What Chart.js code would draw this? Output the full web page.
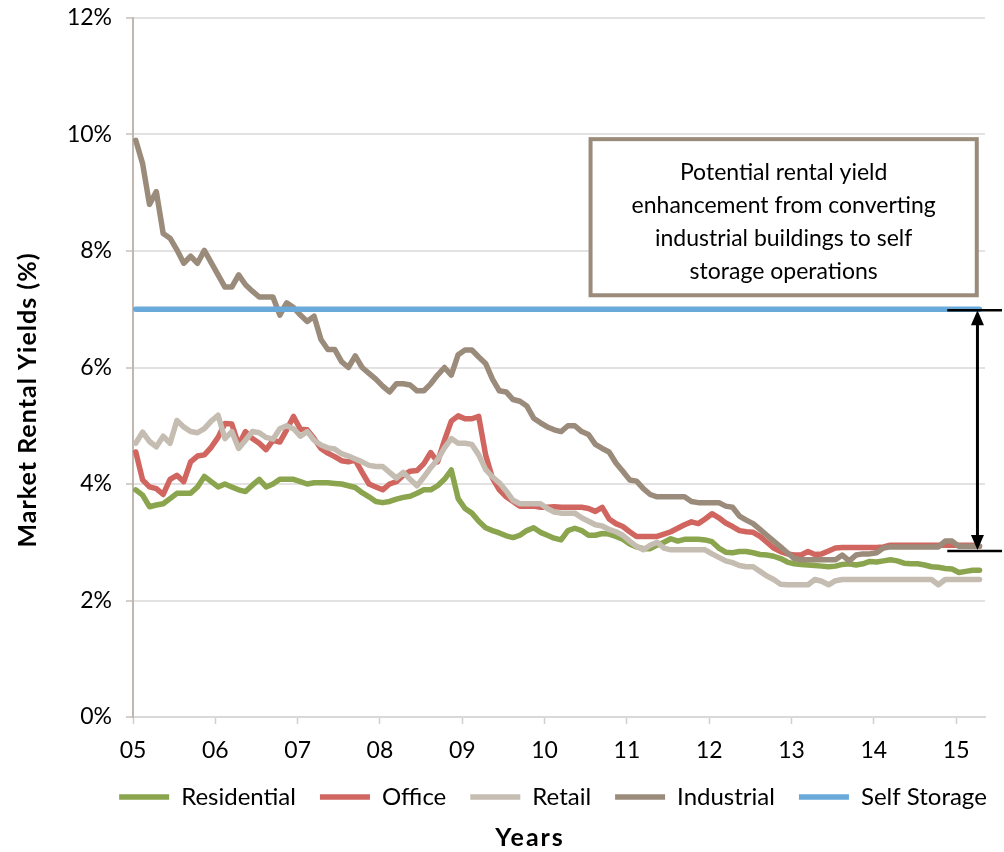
<!DOCTYPE html>
<html>
<head>
<meta charset="utf-8">
<script src="https://cdn.jsdelivr.net/npm/chart.js@4.4.0/dist/chart.umd.min.js"></script>
<style>
  html, body { margin: 0; padding: 0; background: #ffffff; }
  #wrap { width: 1004px; height: 852px; position: relative; }
</style>
</head>
<body>
<div id="wrap"><canvas id="chart" width="1004" height="852"></canvas></div>
<script>
// Year tick labels (one tick every 12 months, starting January 2005)
const yearLabels = ['05', '06', '07', '08', '09', '10', '11', '12', '13', '14', '15'];

// Monthly market rental yields (%), Jan 2005 – Apr 2015
const residential = [
  3.9, 3.81, 3.61, 3.64, 3.66, 3.75, 3.84, 3.84, 3.84, 3.95,
  4.13, 4.04, 3.95, 4.0, 3.95, 3.9, 3.87, 3.98, 4.08, 3.95,
  4.0, 4.08, 4.08, 4.08, 4.04, 4.0, 4.02, 4.02, 4.02, 4.01,
  4.0, 3.97, 3.94, 3.85, 3.78, 3.7, 3.68, 3.7, 3.74, 3.77,
  3.79, 3.84, 3.9, 3.9, 3.97, 4.08, 4.24, 3.75, 3.58, 3.5,
  3.36, 3.25, 3.2, 3.16, 3.11, 3.08, 3.12, 3.2, 3.25, 3.17,
  3.12, 3.07, 3.04, 3.2, 3.24, 3.2, 3.12, 3.12, 3.15, 3.14,
  3.1, 3.05, 2.97, 2.92, 2.89, 2.89, 2.95, 3.0, 3.06, 3.02,
  3.05, 3.05, 3.05, 3.04, 3.01, 2.9, 2.83, 2.82, 2.84, 2.84,
  2.82, 2.79, 2.78, 2.76, 2.72, 2.66, 2.63, 2.62, 2.61, 2.6,
  2.59, 2.58, 2.59, 2.62, 2.63, 2.61, 2.63, 2.67, 2.66, 2.68,
  2.7, 2.68, 2.64, 2.63, 2.63, 2.61, 2.58, 2.57, 2.55, 2.54,
  2.48, 2.5, 2.52, 2.52
];
const office = [
  4.55, 4.07, 3.95, 3.92, 3.82, 4.08, 4.15, 4.04, 4.38, 4.48,
  4.5, 4.63, 4.8, 5.04, 5.03, 4.67, 4.9, 4.78, 4.7, 4.59,
  4.75, 4.72, 4.93, 5.16, 4.94, 4.93, 4.78, 4.61, 4.53, 4.47,
  4.4, 4.38, 4.41, 4.2, 4.0, 3.95, 3.9, 4.0, 4.04, 4.15,
  4.22, 4.23, 4.35, 4.54, 4.38, 4.75, 5.08, 5.17, 5.12, 5.12,
  5.16, 4.5, 4.1, 3.9, 3.78, 3.7, 3.62, 3.62, 3.62, 3.6,
  3.6, 3.61, 3.6, 3.6, 3.6, 3.6, 3.58, 3.53, 3.6, 3.4,
  3.32, 3.27, 3.18, 3.1, 3.1, 3.1, 3.1, 3.14, 3.18, 3.24,
  3.3, 3.35, 3.32, 3.4, 3.49, 3.42, 3.33, 3.27, 3.2, 3.18,
  3.17, 3.1, 3.0, 2.9, 2.84, 2.8, 2.78, 2.78, 2.84, 2.79,
  2.8, 2.85, 2.9, 2.91, 2.91, 2.91, 2.91, 2.91, 2.91, 2.92,
  2.95, 2.95, 2.95, 2.95, 2.95, 2.95, 2.95, 2.95, 2.95, 2.95,
  2.95, 2.95, 2.95, 2.93
];
const retail = [
  4.7, 4.89, 4.73, 4.64, 4.82, 4.7, 5.09, 4.98, 4.9, 4.88,
  4.95, 5.08, 5.18, 4.78, 4.9, 4.61, 4.75, 4.9, 4.88, 4.8,
  4.77, 4.95, 5.0, 4.95, 4.82, 4.9, 4.75, 4.67, 4.62, 4.6,
  4.52, 4.48, 4.43, 4.38, 4.32, 4.3, 4.3, 4.2, 4.1, 4.2,
  4.08, 3.97, 4.12, 4.28, 4.42, 4.62, 4.78, 4.7, 4.7, 4.68,
  4.5, 4.25, 4.12, 4.02, 3.88, 3.72, 3.66, 3.66, 3.66, 3.66,
  3.58, 3.52, 3.5, 3.5, 3.5, 3.42, 3.36, 3.3, 3.28, 3.22,
  3.18, 3.12, 3.02, 2.93, 2.87, 2.95, 3.0, 2.9, 2.87, 2.87,
  2.87, 2.87, 2.87, 2.87, 2.8, 2.74, 2.68, 2.65, 2.6, 2.58,
  2.58, 2.5, 2.42, 2.36, 2.28, 2.27, 2.27, 2.27, 2.27, 2.36,
  2.33, 2.27, 2.34, 2.36, 2.36, 2.36, 2.36, 2.36, 2.36, 2.36,
  2.36, 2.36, 2.36, 2.36, 2.36, 2.36, 2.36, 2.27, 2.36, 2.36,
  2.36, 2.36, 2.36, 2.36
];
const industrial = [
  9.9, 9.5, 8.8, 9.02, 8.3, 8.22, 8.02, 7.79, 7.91, 7.79,
  8.01, 7.8, 7.59, 7.38, 7.38, 7.59, 7.42, 7.31, 7.21, 7.21,
  7.21, 6.9, 7.11, 7.03, 6.9, 6.79, 6.88, 6.48, 6.31, 6.31,
  6.1, 6.0, 6.2, 6.0, 5.9, 5.8, 5.68, 5.58, 5.72, 5.72,
  5.7, 5.6, 5.6, 5.72, 5.87, 6.0, 5.87, 6.22, 6.3, 6.3,
  6.18, 6.07, 5.8, 5.6, 5.58, 5.45, 5.42, 5.34, 5.13, 5.05,
  4.98, 4.93, 4.9, 5.0, 5.0, 4.9, 4.85, 4.68, 4.61, 4.55,
  4.36, 4.22, 4.07, 4.05, 3.92, 3.82, 3.78, 3.78, 3.78, 3.78,
  3.78, 3.7, 3.68, 3.68, 3.68, 3.68, 3.62, 3.6, 3.45, 3.38,
  3.32, 3.22, 3.12, 3.02, 2.92, 2.82, 2.72, 2.7, 2.7, 2.7,
  2.7, 2.7, 2.7, 2.78, 2.68, 2.78, 2.8, 2.8, 2.82, 2.9,
  2.92, 2.92, 2.92, 2.92, 2.92, 2.92, 2.92, 2.92, 3.02, 3.02,
  2.93, 2.93, 2.93, 2.93
];
const selfStorage = [
  7.0, 7.0, 7.0, 7.0, 7.0, 7.0, 7.0, 7.0, 7.0, 7.0,
  7.0, 7.0, 7.0, 7.0, 7.0, 7.0, 7.0, 7.0, 7.0, 7.0,
  7.0, 7.0, 7.0, 7.0, 7.0, 7.0, 7.0, 7.0, 7.0, 7.0,
  7.0, 7.0, 7.0, 7.0, 7.0, 7.0, 7.0, 7.0, 7.0, 7.0,
  7.0, 7.0, 7.0, 7.0, 7.0, 7.0, 7.0, 7.0, 7.0, 7.0,
  7.0, 7.0, 7.0, 7.0, 7.0, 7.0, 7.0, 7.0, 7.0, 7.0,
  7.0, 7.0, 7.0, 7.0, 7.0, 7.0, 7.0, 7.0, 7.0, 7.0,
  7.0, 7.0, 7.0, 7.0, 7.0, 7.0, 7.0, 7.0, 7.0, 7.0,
  7.0, 7.0, 7.0, 7.0, 7.0, 7.0, 7.0, 7.0, 7.0, 7.0,
  7.0, 7.0, 7.0, 7.0, 7.0, 7.0, 7.0, 7.0, 7.0, 7.0,
  7.0, 7.0, 7.0, 7.0, 7.0, 7.0, 7.0, 7.0, 7.0, 7.0,
  7.0, 7.0, 7.0, 7.0, 7.0, 7.0, 7.0, 7.0, 7.0, 7.0,
  7.0, 7.0, 7.0, 7.0
];

// Callout text and the yield gap it points at
const calloutLines = [
  'Potential rental yield',
  'enhancement from converting',
  'industrial buildings to self',
  'storage operations'
];
const gapTop = 7.0;      // self storage yield
const gapBottom = 2.85;  // current industrial yield

const FONT = "Lato, 'DejaVu Sans', sans-serif";
const PAD_LEFT = 62;
const AXIS_LEFT = 133;

Chart.defaults.font.family = FONT;
Chart.defaults.font.size = 23;
Chart.defaults.color = '#000000';

const toPoints = arr => arr.map((v, i) => ({ x: i, y: v }));

function series(label, values, color, order) {
  return {
    label: label,
    data: toPoints(values),
    yAxisID: 'y',
    borderColor: color,
    backgroundColor: color,
    borderWidth: 5.5,
    borderCapStyle: 'round',
    borderJoinStyle: 'round',
    pointRadius: 0,
    pointHoverRadius: 0,
    pointStyle: 'line',
    tension: 0,
    fill: false,
    order: order
  };
}

// Callout box, gap arrow and axis titles
const extras = {
  id: 'extras',
  afterDatasetsDraw(chart) {
    const { ctx, chartArea, scales: { x, y } } = chart;
    ctx.save();

    // callout box
    const bx0 = x.getPixelForValue(66.3), bx1 = x.getPixelForValue(122.6);
    const by0 = y.getPixelForValue(9.92), by1 = y.getPixelForValue(7.24);
    ctx.fillStyle = '#ffffff';
    ctx.fillRect(bx0, by0, bx1 - bx0, by1 - by0);
    ctx.strokeStyle = '#9a8b7b';
    ctx.lineWidth = 4;
    ctx.strokeRect(bx0, by0, bx1 - bx0, by1 - by0);
    ctx.fillStyle = '#000000';
    ctx.font = '23px ' + FONT;
    ctx.textAlign = 'center';
    ctx.textBaseline = 'middle';
    const cx = (bx0 + bx1) / 2;
    calloutLines.forEach((line, i) => {
      ctx.fillText(line, cx, by0 + 33 + i * 33);
    });

    // double-headed arrow spanning the yield gap
    const ax = x.getPixelForValue(122.7);
    const yTop = y.getPixelForValue(gapTop);
    const yBot = y.getPixelForValue(gapBottom);
    const hx0 = x.getPixelForValue(118.3), hx1 = chartArea.right + 17;
    ctx.strokeStyle = '#000000';
    ctx.lineWidth = 2.5;
    ctx.beginPath();
    ctx.moveTo(hx0, yTop + 1); ctx.lineTo(hx1, yTop + 1);
    ctx.moveTo(hx0, yBot); ctx.lineTo(hx1, yBot);
    ctx.stroke();
    ctx.lineWidth = 3;
    ctx.beginPath();
    ctx.moveTo(ax, yTop + 12); ctx.lineTo(ax, yBot - 12);
    ctx.stroke();
    ctx.fillStyle = '#000000';
    ctx.beginPath();
    ctx.moveTo(ax, yTop + 1); ctx.lineTo(ax - 6.5, yTop + 16); ctx.lineTo(ax + 6.5, yTop + 16); ctx.closePath();
    ctx.moveTo(ax, yBot - 1); ctx.lineTo(ax - 6.5, yBot - 16); ctx.lineTo(ax + 6.5, yBot - 16); ctx.closePath();
    ctx.fill();
    ctx.restore();
  },
  afterDraw(chart) {
    const { ctx, chartArea } = chart;
    ctx.save();
    ctx.fillStyle = '#000000';
    ctx.textAlign = 'center';
    ctx.textBaseline = 'middle';
    ctx.font = 'bold 25px ' + FONT;
    ctx.letterSpacing = '2px';
    ctx.fillText('Years', chartArea.left + 397, chart.height - 14);
    ctx.letterSpacing = '1px';
    ctx.translate(28, chartArea.top + 382);
    ctx.rotate(-Math.PI / 2);
    ctx.fillText('Market Rental Yields (%)', 0, 0);
    ctx.restore();
  }
};

new Chart(document.getElementById('chart'), {
  type: 'line',
  data: {
    datasets: [
      series('Residential', residential, '#8aa54e', 5),
      series('Office', office, '#d0665f', 4),
      series('Retail', retail, '#c5bcb2', 3),
      series('Industrial', industrial, '#9a8b7b', 2),
      series('Self Storage', selfStorage, '#6aaadb', 1)
    ]
  },
  options: {
    responsive: false,
    animation: false,
    devicePixelRatio: 1,
    layout: { padding: { left: PAD_LEFT, right: -40, top: 18, bottom: 33 } },
    plugins: {
      legend: {
        position: 'bottom',
        labels: {
          usePointStyle: true,
          pointStyle: 'line',
          pointStyleWidth: 50,
          padding: 24,
          color: '#000000',
          font: { size: 24 },
          sort: (a, b) => a.datasetIndex - b.datasetIndex
        }
      },
      tooltip: { enabled: false }
    },
    scales: {
      x: {
        type: 'linear',
        min: -0.4,
        max: 123.8,
        afterBuildTicks: s => { s.ticks = yearLabels.map((_, k) => ({ value: k * 12 - 0.4 })); },
        afterFit: s => { s.height = 44; },
        ticks: {
          autoSkip: false,
          maxRotation: 0,
          padding: 13,
          color: '#000000',
          callback: (v, i) => yearLabels[i]
        },
        grid: { drawOnChartArea: false, drawTicks: true, tickLength: 7, tickColor: '#d3cfcb', tickWidth: 1.5 },
        border: { color: '#d9d9d9', width: 2 }
      },
      y: {
        min: 0,
        max: 12,
        afterFit: s => {
          s.width = AXIS_LEFT - PAD_LEFT;
          s.paddingTop = 0;
          s.paddingBottom = 0;
        },
        ticks: { stepSize: 2, padding: 14, color: '#000000', callback: v => v + '%' },
        grid: { color: '#e4e1e1', lineWidth: 2, tickLength: 7, tickColor: '#c6bfb8', tickWidth: 1.5 },
        border: { color: '#c0b8b0', width: 2 }
      },
      // empty right-hand margin beside the plot
      gutter: {
        position: 'right',
        display: true,
        afterFit: s => { s.width = 59; s.paddingTop = 0; s.paddingBottom = 0; },
        ticks: { display: false },
        grid: { display: false, drawTicks: false },
        border: { display: false }
      }
    }
  },
  plugins: [extras]
});
</script>
</body>
</html>
